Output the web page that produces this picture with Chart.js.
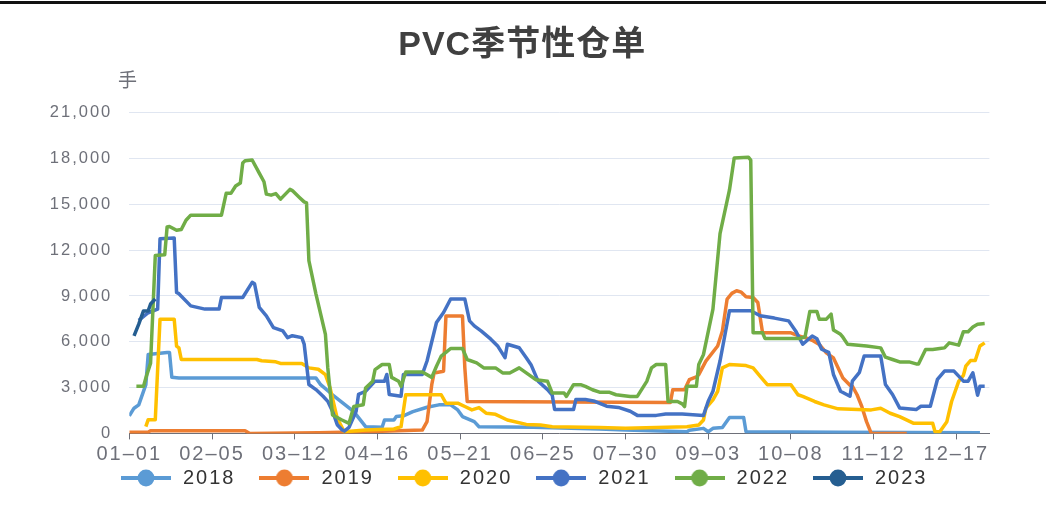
<!DOCTYPE html>
<html><head><meta charset="utf-8">
<script src="https://cdn.jsdelivr.net/npm/chart.js@4.4.0/dist/chart.umd.min.js"></script>
<style>
html,body{margin:0;padding:0;background:#fff;}
#wrap{position:relative;width:1046px;height:505px;overflow:hidden;background:#fff;}
#topline{position:absolute;left:0;top:1px;width:1046px;height:3px;background:#111;}
canvas{position:absolute;left:0;top:0;}
</style></head><body>
<div id="wrap"><canvas id="c" width="1046" height="505"></canvas><div id="topline"></div></div>
<script>
const titleText = 'PVC季节性仓单';
const unitText = '手';
const seriesNames = ['2018','2019','2020','2021','2022','2023'];
const seriesColors = ['#5b9bd5','#ed7d31','#ffc000','#4472c4','#70ad47','#255e91'];
const tickLabels = ['01–01','02–05','03–12','04–16','05–21','06–25','07–30','09–03','10–08','11–12','12–17'];
const tickStepDays = 35;
const yMax = 21000, yStep = 3000, lastDay = 364;

const days2018 = [0,2,4,7,8,16,17,18,21,79,81,86,95,100,107,108,112,113,116,120,126,131,136,139,141,146,148,171,199,210,236,237,243,245,247,251,254,260,261,300,360];
const vals2018 = [1150,1650,1870,3190,5170,5300,5300,3670,3630,3630,3190,2530,1430,440,400,880,880,1100,1150,1430,1710,1870,1870,1540,1100,770,440,400,290,220,110,200,330,110,330,380,1040,1040,110,80,50];

const days2019 = [0,8,9,49,51,80,100,124,126,128,129,133,134,141,142,143,229,230,235,237,240,241,244,249,251,253,255,257,259,261,264,266,268,280,283,287,289,292,295,298,300,302,305,306,308,310,312,314,329];
const vals2019 = [70,80,180,180,0,50,100,220,770,3190,3960,4070,7690,7690,4290,2090,2020,2860,2860,3520,3700,3850,4730,5720,6710,8800,9170,9340,9250,8950,8900,8570,6590,6590,6400,6220,6100,5830,5270,4940,4290,3630,3150,3100,2530,1760,770,0,0];

const days2020 = [7,8,11,13,19,20,21,22,54,56,62,64,73,76,80,83,85,88,91,100,112,115,117,132,134,139,142,145,148,151,155,160,168,174,179,199,210,236,241,243,244,247,249,251,254,261,264,267,270,280,283,285,290,294,300,314,318,322,326,332,340,341,343,346,348,351,353,354,356,358,360,362];
const vals2020 = [440,900,900,7480,7480,5720,5600,4840,4840,4760,4690,4580,4580,4290,4200,3850,2970,990,110,220,290,440,2530,2530,1980,1980,1760,1540,1690,1320,1250,880,590,550,440,380,330,440,550,880,1650,2200,2750,4290,4510,4440,4290,3740,3190,3190,2530,2420,2090,1870,1610,1540,1650,1320,1100,660,660,110,110,770,2090,3410,3800,4400,4770,4770,5720,5930];

const days2021 = [4,8,12,13,19,20,21,26,32,38,39,48,52,53,55,58,61,65,67,69,73,74,76,79,82,84,86,88,90,91,93,96,97,100,104,108,109,110,115,116,124,126,130,133,136,142,144,146,149,153,156,159,160,165,168,170,173,177,179,180,188,189,193,197,202,207,212,215,223,227,234,243,245,247,250,254,263,267,273,279,282,285,289,291,293,296,298,301,305,306,309,311,318,320,323,326,333,335,339,342,345,349,353,355,357,359,360,362];
const vals2021 = [7400,7900,8140,12750,12800,9230,9150,8350,8140,8140,8900,8900,9890,9800,8250,7700,6930,6710,6270,6400,6270,5850,3200,2870,2430,2100,1450,570,240,150,400,1450,2550,2760,3420,3420,3860,2550,2430,3860,3860,4740,7260,7920,8800,8800,7370,7040,6700,6170,5700,4960,5840,5610,4960,4500,3420,2870,2500,1560,1560,2220,2220,2100,1780,1700,1450,1180,1180,1270,1270,1180,2100,2760,4740,8030,8030,7700,7550,7370,6710,5840,6380,6200,5510,5300,3860,2760,2430,3420,4000,5070,5070,3200,2550,1670,1560,1780,1780,3530,4080,4080,3420,3420,3970,2500,3090,3090];

const days2022 = [3,6,7,9,11,15,16,17,20,22,24,26,39,41,43,45,47,48,49,52,55,57,58,60,62,64,68,69,72,74,75,76,79,83,84,86,90,93,95,99,100,103,104,107,110,111,114,115,117,124,128,130,132,134,136,141,143,147,150,155,158,161,165,168,172,177,179,184,185,188,191,193,196,199,203,206,212,215,219,221,223,227,228,232,234,235,236,240,241,243,247,250,254,256,262,263,264,268,269,284,286,288,291,292,295,297,298,301,302,304,312,318,320,323,326,330,333,334,337,340,343,345,347,351,353,355,357,359,362];
const vals2022 = [3080,3080,3630,4600,11650,11700,13520,13550,13300,13350,13960,14290,14290,15720,15720,16200,16400,17700,17850,17900,17040,16480,15670,15600,15700,15340,15980,15900,15450,15160,15100,11320,9120,6490,4290,1210,880,660,1760,1870,2970,3410,4180,4510,4510,3670,3410,3080,4020,4020,3670,4400,5060,5300,5560,5560,4840,4620,4290,4290,3960,3960,4290,3960,3520,3410,2640,2640,2420,3190,3190,3080,2860,2700,2700,2530,2420,2420,3410,4290,4510,4510,2090,2090,1930,1760,3080,3080,4510,5170,8140,13080,15940,18030,18090,17900,6590,6590,6220,6220,6330,7980,7980,7480,7480,7810,6770,6490,6300,5830,5720,5600,4990,4840,4680,4680,4550,4550,5500,5500,5560,5600,5930,5780,6660,6660,6970,7150,7190];

const days2023 = [2,4,6,8,9,11];
const vals2023 = [6380,7150,8020,8020,8470,8800];

const seriesDays = [days2018, days2019, days2020, days2021, days2022, days2023];
const seriesVals = [vals2018, vals2019, vals2020, vals2021, vals2022, vals2023];

const FONT = '"Liberation Sans", "Noto Sans CJK SC", Arial, sans-serif';

function legendIcon(color) {
  const c = document.createElement('canvas');
  c.width = 50; c.height = 18;
  const g = c.getContext('2d');
  g.strokeStyle = color; g.lineWidth = 4;
  g.beginPath(); g.moveTo(0, 9); g.lineTo(50, 9); g.stroke();
  g.fillStyle = color;
  g.beginPath(); g.arc(25, 9, 8.4, 0, Math.PI * 2); g.fill();
  return c;
}

const datasets = seriesNames.map((name, i) => ({
  label: name,
  data: seriesDays[i].map((d, k) => ({ x: d, y: seriesVals[i][k] })),
  borderColor: seriesColors[i],
  backgroundColor: seriesColors[i],
  borderWidth: 3.5,
  pointRadius: 0,
  pointHoverRadius: 0,
  tension: 0,
  fill: false,
  borderJoinStyle: 'round',
  pointStyle: legendIcon(seriesColors[i]),
  order: seriesNames.length - 1 - i
}));

const spacingPlugin = {
  id: 'spacing',
  beforeLayout(chart) { chart.ctx.letterSpacing = '2px'; },
  afterLayout(chart) {
    // place the legend row below the x-axis labels, starting at the first icon
    const lg = chart.legend;
    const h = lg.bottom - lg.top;
    lg.top = 446.1; lg.bottom = 446.1 + h;
    const w = lg.right - lg.left;
    lg.left = 97.1; lg.right = 97.1 + w;
  },
  beforeDraw(chart) { chart.ctx.letterSpacing = '2px'; }
};

const headerPlugin = {
  id: 'header',
  afterDraw(chart) {
    const ctx = chart.ctx;
    ctx.save();
    ctx.letterSpacing = '1px';
    ctx.font = 'bold 34px ' + FONT;
    ctx.fillStyle = '#404040';
    ctx.textAlign = 'center';
    ctx.textBaseline = 'middle';
    ctx.fillText(titleText, 522.2, 46);
    ctx.letterSpacing = '0px';
    ctx.font = '19px "Noto Sans CJK SC", ' + FONT;
    ctx.fillStyle = '#6e7079';
    ctx.fillText(unitText, 127.5, 80);
    ctx.restore();
  }
};

new Chart(document.getElementById('c'), {
  type: 'line',
  data: { datasets },
  plugins: [spacingPlugin, headerPlugin],
  options: {
    responsive: false,
    devicePixelRatio: 1,
    animation: false,
    events: [],
    layout: { padding: { top: 112.7, left: 0, right: 56.6, bottom: -16.3 } },
    plugins: {
      title: { display: false },
      tooltip: { enabled: false },
      legend: {
        position: 'bottom',
        align: 'start',
        labels: {
          usePointStyle: true,
          pointStyleWidth: 54,
          padding: 21.9,
          color: '#333333',
          font: { size: 20, family: FONT },
          sort: (a, b) => a.datasetIndex - b.datasetIndex
        }
      }
    },
    scales: {
      x: {
        type: 'linear',
        min: 0,
        max: lastDay,
        afterFit: s => { s.height = 36; },
        afterBuildTicks: s => { s.ticks = tickLabels.map((_, i) => ({ value: i * tickStepDays })); },
        ticks: {
          autoSkip: false, maxRotation: 0, minRotation: 0, padding: 3,
          color: '#6e7079',
          font: { size: 20, family: FONT },
          callback: (v, i) => tickLabels[i]
        },
        grid: { drawOnChartArea: false, drawTicks: true, tickLength: 6, tickColor: '#6e7079', color: '#6e7079' },
        border: { display: true, color: '#6e7079', width: 1 }
      },
      y: {
        min: 0,
        max: yMax,
        afterFit: s => { s.width = 129.3; },
        ticks: {
          stepSize: yStep, padding: 17,
          color: '#6e7079',
          font: { size: 16.5, family: FONT },
          callback: v => v.toLocaleString('en-US')
        },
        grid: { color: '#e0e6f1', drawTicks: false, lineWidth: 1 },
        border: { display: false }
      }
    }
  }
});
</script></body></html>
